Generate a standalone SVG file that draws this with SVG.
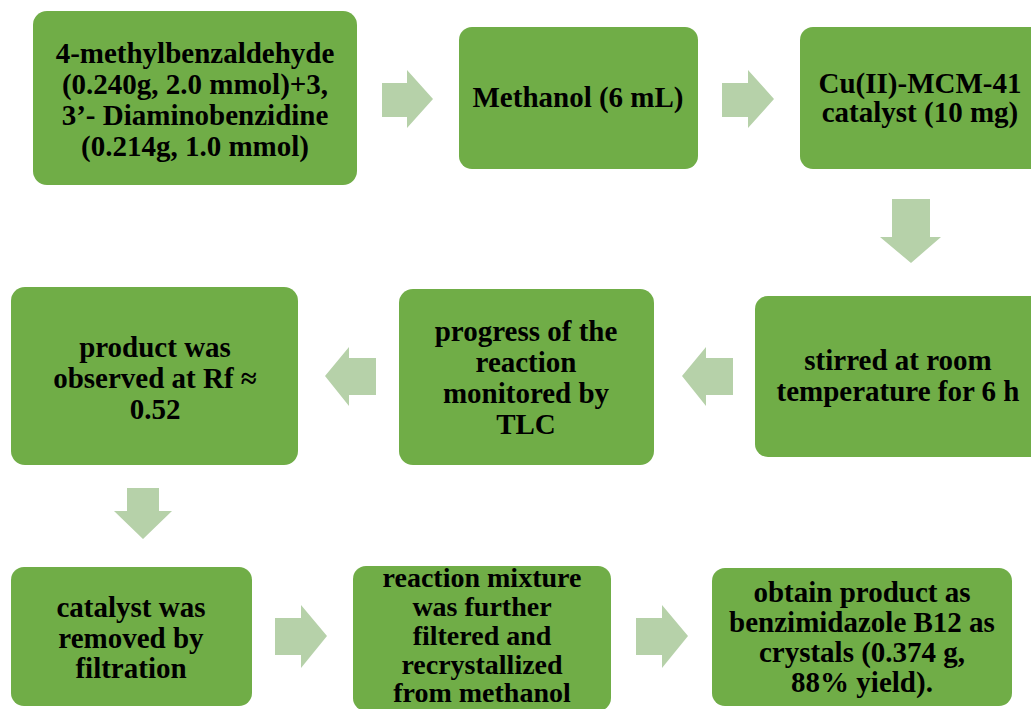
<svg xmlns="http://www.w3.org/2000/svg" width="1031" height="709" viewBox="0 0 1031 709">
<style>
.box{fill:#70AD47;}
.arr{fill:#B6D1A9;}
.t{font-family:"Liberation Serif","Times New Roman",serif;font-weight:bold;font-size:29px;fill:#000;text-anchor:middle;}
.s{font-size:28px;}
</style>
<rect width="1031" height="709" fill="#FFFFFF"/>
<g id="connectors">
<polygon class="arr" points="382,83 407,83 407,70 433,99 407,128 407,117 382,117"/>
<polygon class="arr" points="722,83 748,83 748,70 774,99 748,128 748,117 722,117"/>
<polygon class="arr" points="892,199 930,199 930,237 941,237 911,263 880,237 892,237"/>
<polygon class="arr" points="733,358 706,358 706,347 682,376 706,406 706,395 733,395"/>
<polygon class="arr" points="376,358 349,358 349,347 325,376 349,406 349,395 376,395"/>
<polygon class="arr" points="127,488 159,488 159,511 172,511 143,539 114,511 127,511"/>
<polygon class="arr" points="275,618 301,618 301,605 327,636 301,668 301,655 275,655"/>
<polygon class="arr" points="636,618 662,618 662,605 688,636 662,668 662,655 636,655"/>
</g>
<g id="n1">
<rect class="box" x="33" y="11" width="324" height="174" rx="14"/>
<text class="t" x="195" y="63">4-methylbenzaldehyde</text>
<text class="t" x="195" y="94">(0.240g, 2.0 mmol)+3,</text>
<text class="t" x="195" y="125">3’- Diaminobenzidine</text>
<text class="t" x="195" y="156">(0.214g, 1.0 mmol)</text>
</g>
<g id="n2">
<rect class="box" x="459" y="27" width="239" height="142" rx="13"/>
<text class="t" x="578" y="107">Methanol (6 mL)</text>
</g>
<g id="n3">
<rect class="box" x="800" y="27" width="245" height="142" rx="13"/>
<text class="t" x="920" y="93">Cu(II)-MCM-41</text>
<text class="t" x="920" y="122">catalyst (10 mg)</text>
</g>
<g id="n4">
<rect class="box" x="755" y="296" width="290" height="161" rx="13"/>
<text class="t" x="898" y="370">stirred at room</text>
<text class="t" x="898" y="401">temperature for 6 h</text>
</g>
<g id="n5">
<rect class="box" x="399" y="289" width="255" height="176" rx="14"/>
<text class="t" x="526" y="341">progress of the</text>
<text class="t" x="526" y="372">reaction</text>
<text class="t" x="526" y="403">monitored by</text>
<text class="t" x="526" y="434">TLC</text>
</g>
<g id="n6">
<rect class="box" x="11" y="287" width="287" height="178" rx="14"/>
<text class="t" x="155" y="357">product was</text>
<text class="t" x="155" y="388">observed at Rf ≈</text>
<text class="t" x="155" y="419">0.52</text>
</g>
<g id="n7">
<rect class="box" x="11" y="567" width="241" height="139" rx="13"/>
<text class="t" x="131" y="617">catalyst was</text>
<text class="t" x="131" y="648">removed by</text>
<text class="t" x="131" y="678">filtration</text>
</g>
<g id="n8">
<rect class="box" x="353" y="566" width="258" height="145" rx="13"/>
<text class="t s" x="482" y="587">reaction mixture</text>
<text class="t s" x="482" y="616">was further</text>
<text class="t s" x="482" y="645">filtered and</text>
<text class="t s" x="482" y="674">recrystallized</text>
<text class="t s" x="482" y="702">from methanol</text>
</g>
<g id="n9">
<rect class="box" x="712" y="568" width="300" height="138" rx="13"/>
<text class="t" x="862" y="602">obtain product as</text>
<text class="t" x="862" y="632">benzimidazole B12 as</text>
<text class="t" x="862" y="662">crystals (0.374 g,</text>
<text class="t" x="862" y="692">88% yield).</text>
</g>
</svg>
